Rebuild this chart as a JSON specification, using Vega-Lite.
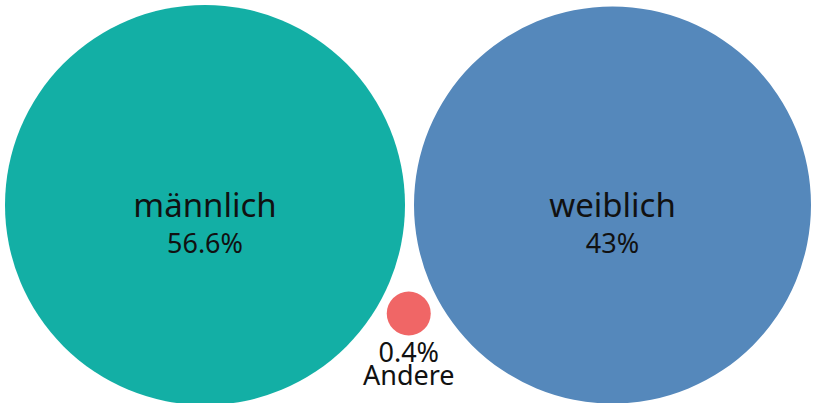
{
  "$schema": "https://vega.github.io/schema/vega-lite/v6.json",
  "width": 815,
  "height": 403,
  "autosize": "none",
  "padding": 0,
  "background": "white",
  "config": {"view": {"stroke": null}},
  "data": {"values": [
    {"kategorie": "männlich", "anteil": 56.6, "label": "56.6%", "groesse": "groß"},
    {"kategorie": "weiblich", "anteil": 43, "label": "43%", "groesse": "groß"},
    {"kategorie": "Andere", "anteil": 0.4, "label": "0.4%", "groesse": "klein"}
  ]},
  "encoding": {
    "x": {"field": "kategorie", "type": "nominal", "axis": null,
          "scale": {"type": "point", "domain": ["männlich", "Andere", "weiblich"], "range": [205, 612.5], "padding": 0}},
    "y": {"field": "groesse", "type": "nominal", "axis": null,
          "scale": {"type": "point", "domain": ["groß", "klein"], "range": [205, 313.5], "padding": 0}}
  },
  "layer": [
    {
      "mark": {"type": "point", "shape": "circle", "filled": true, "opacity": 1, "strokeWidth": 0},
      "encoding": {
        "size": {"field": "anteil", "type": "quantitative", "legend": null,
                 "scale": {"type": "linear", "domain": [0.4, 43, 56.6], "range": [1936, 157609, 160000]}},
        "color": {"field": "kategorie", "type": "nominal", "legend": null,
                  "scale": {"domain": ["männlich", "weiblich", "Andere"], "range": ["#13afa5", "#5588bb", "#f06666"]}}
      }
    },
    {
      "transform": [{"filter": "datum.groesse === 'groß'"}],
      "mark": {"type": "text", "font": "Noto Sans", "fontSize": 33, "dy": 12, "baseline": "alphabetic", "align": "center", "color": "#111111"},
      "encoding": {"text": {"field": "kategorie"}}
    },
    {
      "transform": [{"filter": "datum.groesse === 'groß'"}],
      "mark": {"type": "text", "font": "Noto Sans", "fontSize": 27, "dy": 48, "baseline": "alphabetic", "align": "center", "color": "#111111"},
      "encoding": {"text": {"field": "label"}}
    },
    {
      "transform": [{"filter": "datum.groesse === 'klein'"}],
      "mark": {"type": "text", "font": "Noto Sans", "fontSize": 27, "dy": 48, "baseline": "alphabetic", "align": "center", "color": "#111111"},
      "encoding": {"text": {"field": "label"}}
    },
    {
      "transform": [{"filter": "datum.groesse === 'klein'"}],
      "mark": {"type": "text", "font": "Noto Sans", "fontSize": 27, "dy": 71, "baseline": "alphabetic", "align": "center", "color": "#111111"},
      "encoding": {"text": {"field": "kategorie"}}
    }
  ]
}
